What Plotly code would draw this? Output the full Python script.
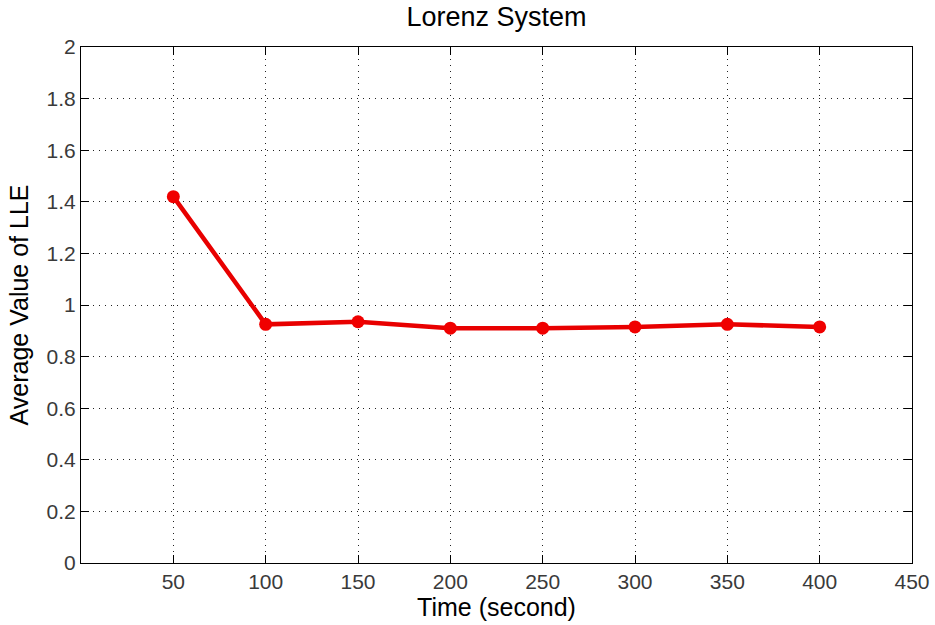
import plotly.graph_objects as go

time_s = [50, 100, 150, 200, 250, 300, 350, 400]
avg_lle = [1.42, 0.925, 0.935, 0.91, 0.91, 0.915, 0.925, 0.915]
x_ticks = [50, 100, 150, 200, 250, 300, 350, 400, 450]
y_ticks = [0, 0.2, 0.4, 0.6, 0.8, 1, 1.2, 1.4, 1.6, 1.8, 2]
y_tick_text = ["0", "0.2", "0.4", "0.6", "0.8", "1", "1.2", "1.4", "1.6", "1.8", "2"]

fig = go.Figure()
fig.add_trace(go.Scatter(
    x=time_s, y=avg_lle, mode="lines+markers",
    line=dict(color="#e80000", width=4.5),
    marker=dict(color="#f00000", size=13),
    showlegend=False,
))

font_family = "Liberation Sans, Arial, sans-serif"
axis_common = dict(
    showline=True, linecolor="black", linewidth=1, mirror="ticks",
    ticks="inside", ticklen=8, tickcolor="black", tickwidth=1,
    showgrid=True, gridcolor="#222222", griddash="1px,5px", gridwidth=1,
    zeroline=False, automargin=False,
    tickfont=dict(family=font_family, size=21, color="#3a3a3a"),
)

fig.update_layout(
    width=935, height=625,
    margin=dict(l=81, r=23, t=47, b=62),
    paper_bgcolor="white", plot_bgcolor="white",
    title=dict(text="Lorenz System", x=0.531, xanchor="center", y=0.973, yanchor="middle",
               font=dict(family=font_family, size=27, color="black")),
    xaxis=dict(range=[0, 450], tickvals=x_ticks,
               title=dict(text="Time (second)", standoff=4,
                          font=dict(family=font_family, size=25, color="black")),
               **axis_common),
    yaxis=dict(range=[0, 2], tickvals=y_ticks, ticktext=y_tick_text,
               title=dict(text="Average Value of LLE", standoff=10,
                          font=dict(family=font_family, size=25, color="black")),
               **axis_common),
)

fig.write_html("out.html")
